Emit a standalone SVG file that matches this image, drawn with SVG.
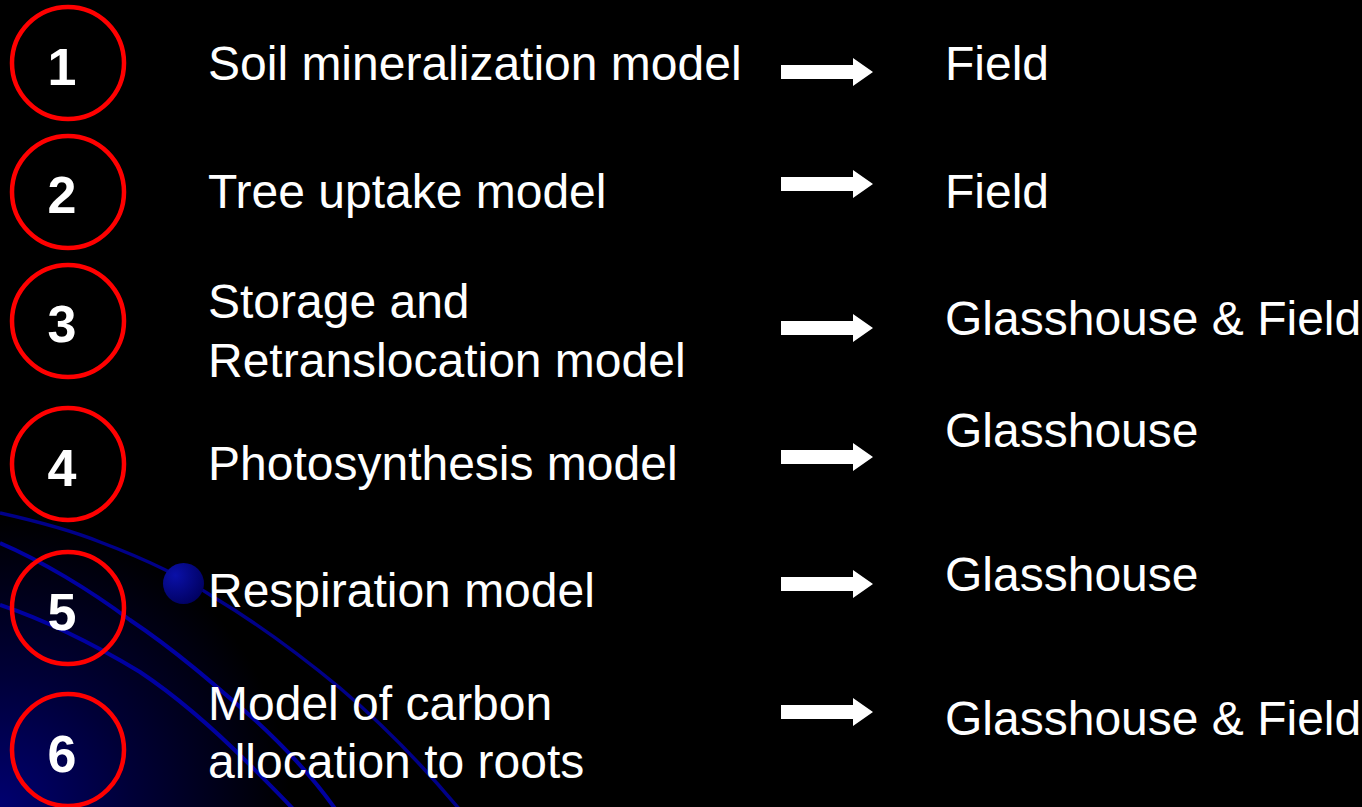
<svg xmlns="http://www.w3.org/2000/svg" width="1362" height="807" viewBox="0 0 1362 807">
  <defs>
    <radialGradient id="cornerGlow" cx="0" cy="807" r="290" gradientUnits="userSpaceOnUse">
      <stop offset="0" stop-color="#000070"/>
      <stop offset="0.45" stop-color="#000038"/>
      <stop offset="1" stop-color="#000000"/>
    </radialGradient>
    <radialGradient id="bullet" cx="0.3" cy="0.3" r="0.8">
      <stop offset="0" stop-color="#0a10a8"/>
      <stop offset="1" stop-color="#00005e"/>
    </radialGradient>
    <path id="arrow" d="M0,-7 H72 V-14 L92,0 L72,14 V7 H0 Z"/>
    <style>
      .ring { fill: none; stroke: #ff0000; stroke-width: 4.5; }
      .num { font-family: "Liberation Sans", Arial, sans-serif; font-weight: bold; font-size: 52px; fill: #ffffff; text-anchor: middle; }
      .label { font-family: "Liberation Sans", Arial, sans-serif; font-size: 48px; fill: #ffffff; }
      .swoosh { fill: none; stroke: #0000a0; stroke-width: 4; }
      .swoosh-thin { fill: none; stroke: #000088; stroke-width: 3.5; }
      .arrowhead { fill: #ffffff; }
    </style>
  </defs>

  <!-- background -->
  <rect width="1362" height="807" fill="#000000"/>
  <rect width="1362" height="807" fill="url(#cornerGlow)"/>

  <!-- decorative swooshes -->
  <g id="swooshes">
    <path class="swoosh-thin" d="M0,513 C40,522 70,530 100,542 C140,557 180,575 215,598 C260,625 300,655 340,688 C380,722 420,762 460,810"/>
    <path class="swoosh" d="M0,543 C40,560 90,590 130,620 C175,650 215,685 255,720 C290,752 315,780 336,810"/>
    <path class="swoosh" d="M0,605 C45,620 95,645 140,672 C185,702 220,735 250,765 C270,785 285,800 294,810"/>
    <circle cx="183.5" cy="583.5" r="20.5" fill="url(#bullet)"/>
  </g>

  <!-- numbered rings -->
  <g id="node-1"><circle class="ring" cx="68" cy="63" r="56"/><text class="num" x="62" y="85">1</text></g>
  <g id="node-2"><circle class="ring" cx="68" cy="192" r="56"/><text class="num" x="62" y="213">2</text></g>
  <g id="node-3"><circle class="ring" cx="68" cy="321" r="56"/><text class="num" x="62" y="342">3</text></g>
  <g id="node-4"><circle class="ring" cx="68" cy="464" r="56"/><text class="num" x="62" y="486">4</text></g>
  <g id="node-5"><circle class="ring" cx="68" cy="608" r="56"/><text class="num" x="62" y="630">5</text></g>
  <g id="node-6"><circle class="ring" cx="68" cy="750" r="56"/><text class="num" x="62" y="772">6</text></g>

  <!-- model names -->
  <g id="model-1"><text class="label" x="208" y="80">Soil mineralization model</text></g>
  <g id="model-2"><text class="label" x="208" y="208">Tree uptake model</text></g>
  <g id="model-3"><text class="label" x="208" y="318">Storage and</text><text class="label" x="208" y="377">Retranslocation model</text></g>
  <g id="model-4"><text class="label" x="208" y="480">Photosynthesis model</text></g>
  <g id="model-5"><text class="label" x="208" y="607">Respiration model</text></g>
  <g id="model-6"><text class="label" x="208" y="720">Model of carbon</text><text class="label" x="208" y="778">allocation to roots</text></g>

  <!-- connectors -->
  <g id="connectors">
    <use href="#arrow" class="arrowhead" x="781" y="72"/>
    <use href="#arrow" class="arrowhead" x="781" y="184"/>
    <use href="#arrow" class="arrowhead" x="781" y="328"/>
    <use href="#arrow" class="arrowhead" x="781" y="457"/>
    <use href="#arrow" class="arrowhead" x="781" y="584"/>
    <use href="#arrow" class="arrowhead" x="781" y="712"/>
  </g>

  <!-- settings -->
  <g id="setting-1"><text class="label" x="945" y="80">Field</text></g>
  <g id="setting-2"><text class="label" x="945" y="208">Field</text></g>
  <g id="setting-3"><text class="label" x="945" y="335">Glasshouse &amp; Field</text></g>
  <g id="setting-4"><text class="label" x="945" y="447">Glasshouse</text></g>
  <g id="setting-5"><text class="label" x="945" y="591">Glasshouse</text></g>
  <g id="setting-6"><text class="label" x="945" y="735">Glasshouse &amp; Field</text></g>
</svg>
